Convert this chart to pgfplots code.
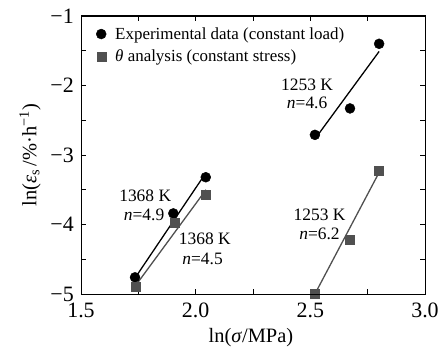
\documentclass[border=0pt]{standalone}
\usepackage{fontspec}
\setmainfont{Liberation Serif}
\usepackage{pgfplots}
\pgfplotsset{compat=1.18}
\definecolor{sq}{RGB}{80,80,80}
\pgfplotsset{common/.style={
  at={(0,0)}, anchor=south west,
  scale only axis, width=344bp, height=278bp,
  xmin=1.5, xmax=3.0, ymin=-5, ymax=-1,
  xtick={1.5,2.0,2.5,3.0}, ytick={-5,-4,-3,-2,-1},
  minor x tick num=1, minor y tick num=1,
  tick align=inside, major tick length=5bp, minor tick length=5bp,
  tick style={black, line width=0.8pt},
  axis line style={black, line width=1pt}}}
\begin{document}
\begin{tikzpicture}
\begin{axis}[common,
  xticklabels={1.5,2.0,2.5,3.0},
  yticklabels={−5,−4,−3,−2,−1},
  ticklabel style={font=\fontsize{22}{24}\selectfont},
  xticklabel style={anchor=center, yshift=-16bp},
  yticklabel style={anchor=east, inner xsep=0pt, xshift=-7bp},
  xlabel={ln(\textit{σ}/MPa)},
  ylabel={ln(\textit{ε}\textsubscript{s}\,/\%·h\textsuperscript{−1})},
  label style={font=\fontsize{20.5}{24}\selectfont},
  xlabel style={at={(axis description cs:0.494,-0.158)}, anchor=center},
  ylabel style={at={(axis description cs:-0.148,0.5)}, anchor=center},
  legend style={draw=none, fill=none, at={(0.035,0.974)}, anchor=north west,
    font=\fontsize{17}{19}\selectfont, row sep=5bp, column sep=7bp},
  legend cell align=left,
]
\addplot[only marks, mark=*, mark size=5bp, black] coordinates {
(1.7355,-4.76) (1.9026,-3.84) (2.044,-3.32) (2.52,-2.71) (2.673,-2.33) (2.80,-1.40)};
\addlegendentry{Experimental data (constant load)}
\addplot[only marks, mark=square*, mark size=4.5bp, sq] coordinates {
(1.74,-4.90) (1.91,-3.97) (2.045,-3.565) (2.52,-5.0) (2.673,-4.22) (2.80,-3.226)};
\addlegendentry{\textit{θ} analysis (constant stress)}
\addplot[black, line width=1.3pt, forget plot] coordinates {(1.7355,-4.77) (2.044,-3.26)};
\addplot[black, line width=1.3pt, forget plot] coordinates {(2.52,-2.77) (2.80,-1.51)};
\addplot[sq, line width=1.3pt, forget plot] coordinates {(1.74,-4.87) (2.045,-3.50)};
\addplot[sq, line width=1.3pt, forget plot] coordinates {(2.52,-5.0) (2.80,-3.25)};
\node[font=\fontsize{17.5}{20}\selectfont] at (axis cs:2.486,-1.99) {1253 K};
\node[font=\fontsize{17.5}{20}\selectfont] at (axis cs:2.486,-2.25) {\textit{n}=4.6};
\node[font=\fontsize{17.5}{20}\selectfont] at (axis cs:1.78,-3.59) {1368 K};
\node[font=\fontsize{17.5}{20}\selectfont] at (axis cs:1.775,-3.86) {\textit{n}=4.9};
\node[font=\fontsize{17.5}{20}\selectfont] at (axis cs:2.04,-4.20) {1368 K};
\node[font=\fontsize{17.5}{20}\selectfont] at (axis cs:2.03,-4.49) {\textit{n}=4.5};
\node[font=\fontsize{17.5}{20}\selectfont] at (axis cs:2.54,-3.86) {1253 K};
\node[font=\fontsize{17.5}{20}\selectfont] at (axis cs:2.54,-4.13) {\textit{n}=6.2};
\end{axis}
\draw[black, line width=1pt] (0,0) rectangle (344bp,278bp);
\foreach \i in {1,...,5} {\draw[black, line width=0.8pt] (\i*57.333bp,278bp) -- (\i*57.333bp,273bp);}
\foreach \j in {1,...,7} {\draw[black, line width=0.8pt] (344bp,\j*34.75bp) -- (339bp,\j*34.75bp);}
\pgfresetboundingbox
\path[use as bounding box] (-81bp,-60bp) rectangle (364bp,294bp);
\end{tikzpicture}
\end{document}
